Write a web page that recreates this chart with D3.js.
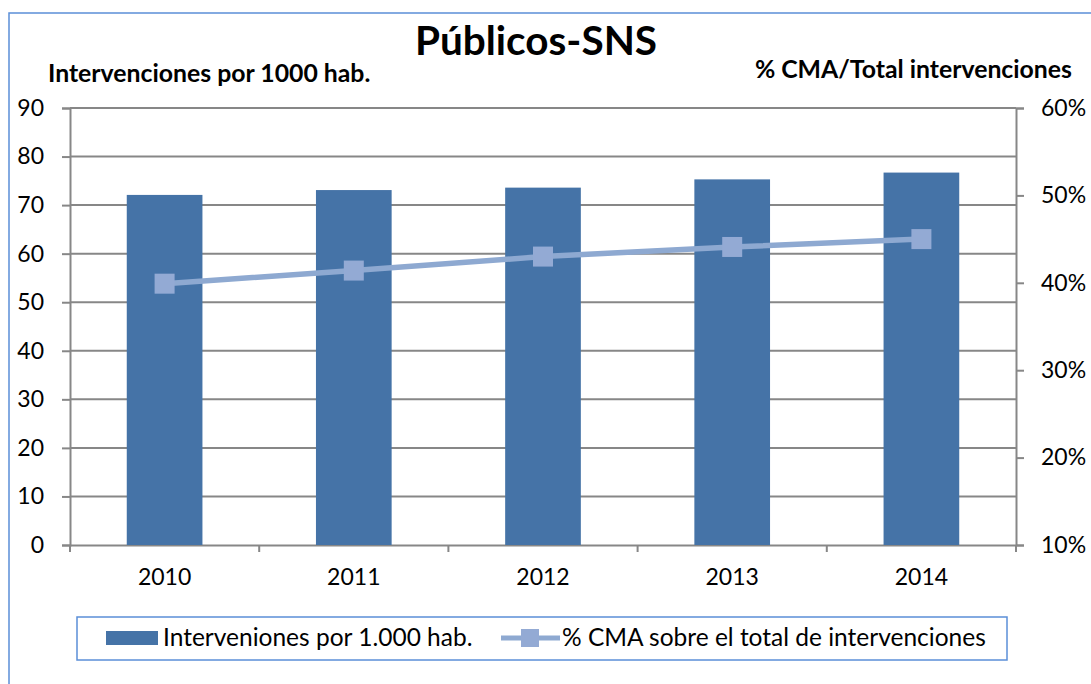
<!DOCTYPE html>
<html>
<head>
<meta charset="utf-8">
<script src="https://d3js.org/d3.v7.min.js"></script>
<style>
  body { margin: 0; background: #fff; }
  text { font-family: Lato, "Open Sans", sans-serif; fill: #000; }
</style>
</head>
<body>
<div id="chart"></div>
<script>
var years = ["2010", "2011", "2012", "2013", "2014"];
var intervenciones = [72.1, 73.1, 73.6, 75.3, 76.7];
var pctCMA = [39.9, 41.4, 43.0, 44.1, 45.0];
var leftTicks = [0, 10, 20, 30, 40, 50, 60, 70, 80, 90];
var rightTicks = [10, 20, 30, 40, 50, 60];

var W = 1091, H = 684;
var plotL = 70, plotR = 1016, plotT = 108, plotB = 545;

var svg = d3.select("#chart").append("svg")
    .attr("width", W).attr("height", H);

// outer frame
svg.append("rect")
    .attr("x", 9).attr("y", 13).attr("width", 1100).attr("height", 700)
    .attr("fill", "none").attr("stroke", "#5b8fd8").attr("stroke-width", 1.5);

var x = d3.scaleBand().domain(years).range([plotL, plotR])
    .paddingInner(0.6).paddingOuter(0.3);
var y = d3.scaleLinear().domain([0, 90]).range([plotB, plotT]);
var y2 = d3.scaleLinear().domain([10, 60]).range([plotB, plotT]);

var grey = "#878787";

// gridlines
svg.append("g").selectAll("line").data(leftTicks.slice(1)).enter().append("line")
    .attr("x1", plotL).attr("x2", plotR)
    .attr("y1", d => y(d)).attr("y2", d => y(d))
    .attr("stroke", grey).attr("stroke-width", 2);

// left axis
var gl = svg.append("g").attr("transform", "translate(" + plotL + ",0)")
    .call(d3.axisLeft(y).tickValues(leftTicks).tickSize(8).tickPadding(18));
gl.selectAll("text").style("font-size", "23px");

// right axis
var gr = svg.append("g").attr("transform", "translate(" + plotR + ",0)")
    .call(d3.axisRight(y2).tickValues(rightTicks).tickSize(8).tickPadding(17)
        .tickFormat(d => d + "%"));
gr.selectAll("text").style("font-size", "23px");

// bottom axis
var gb = svg.append("g").attr("transform", "translate(0," + plotB + ")")
    .call(d3.axisBottom(x).tickSize(0).tickPadding(24));
gb.selectAll("text").style("font-size", "23px");
var bounds = [plotL].concat(years.map(d => x(d) + x.bandwidth() / 2 + x.step() / 2));
gb.selectAll(".bnd").data(bounds).enter().append("line")
    .attr("x1", d => d).attr("x2", d => d).attr("y1", 0).attr("y2", 7)
    .attr("stroke", grey).attr("stroke-width", 2);

[gl, gr, gb].forEach(g => {
  g.selectAll(".domain").attr("stroke", grey).attr("stroke-width", 2);
  g.selectAll(".tick line").attr("stroke", grey).attr("stroke-width", 2);
});

// bars
svg.append("g").selectAll("rect").data(years).enter().append("rect")
    .attr("x", d => x(d)).attr("width", x.bandwidth())
    .attr("y", (d, i) => y(intervenciones[i]))
    .attr("height", (d, i) => plotB - y(intervenciones[i]))
    .attr("fill", "#4573a7");

// line
var pts = years.map((d, i) => [x(d) + x.bandwidth() / 2, y2(pctCMA[i])]);
svg.append("path").datum(pts)
    .attr("d", d3.line())
    .attr("fill", "none").attr("stroke", "#8ea9d1").attr("stroke-width", 5.5);
svg.append("g").selectAll("rect").data(pts).enter().append("rect")
    .attr("x", d => d[0] - 10).attr("y", d => d[1] - 10)
    .attr("width", 20).attr("height", 20)
    .attr("fill", "#93aad4");

// titles
svg.append("text").attr("x", 536).attr("y", 55).attr("text-anchor", "middle")
    .style("font-size", "40.5px").style("font-weight", "bold").text("Públicos-SNS");
svg.append("text").attr("x", 48).attr("y", 82)
    .style("font-size", "24.8px").style("font-weight", "bold")
    .text("Intervenciones por 1000 hab.");
svg.append("text").attr("x", 1072).attr("y", 78).attr("text-anchor", "end")
    .style("font-size", "24.8px").style("font-weight", "bold")
    .text("% CMA/Total intervenciones");

// legend
var lg = svg.append("g");
lg.append("rect").attr("x", 77).attr("y", 617).attr("width", 930).attr("height", 43)
    .attr("fill", "#fff").attr("stroke", "#5b8fd8").attr("stroke-width", 1.5);
lg.append("rect").attr("x", 106).attr("y", 631).attr("width", 52).attr("height", 14)
    .attr("fill", "#4573a7");
lg.append("text").attr("x", 163).attr("y", 646).style("font-size", "24.5px")
    .text("Interveniones por 1.000 hab.");
lg.append("line").attr("x1", 501).attr("x2", 560).attr("y1", 638).attr("y2", 638)
    .attr("stroke", "#8ea9d1").attr("stroke-width", 5);
lg.append("rect").attr("x", 521).attr("y", 629).attr("width", 18).attr("height", 18)
    .attr("fill", "#93aad4");
lg.append("text").attr("x", 562).attr("y", 646).style("font-size", "24.5px")
    .text("% CMA sobre el total de intervenciones");
</script>
</body>
</html>
